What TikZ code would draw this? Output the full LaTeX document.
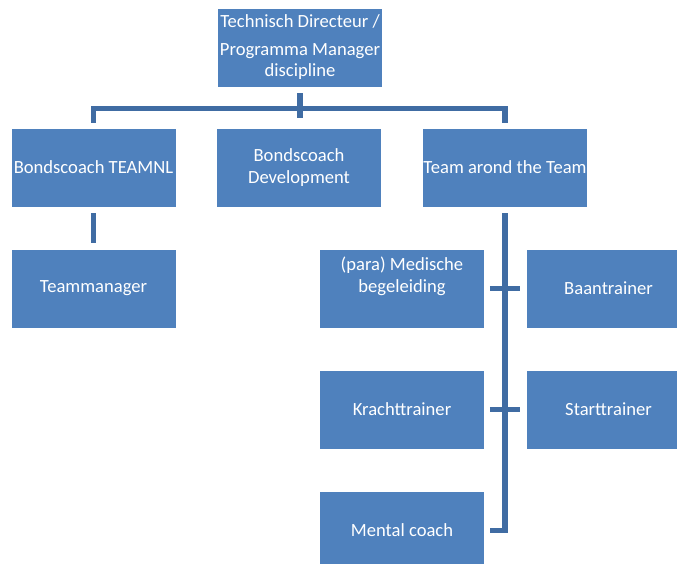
\documentclass[tikz,border=0pt]{standalone}
\usepackage{fontspec}
\setmainfont{Carlito}
\definecolor{boxblue}{HTML}{4F81BD}
\definecolor{linkblue}{RGB}{64,108,163}
\tikzstyle{unit}=[rectangle,fill=boxblue,draw=white,line width=0.8pt,minimum width=165pt,minimum height=79pt,inner sep=0pt,align=center,text=white,font=\fontsize{18.6}{21.5}\selectfont]
\tikzstyle{link}=[draw=linkblue,line width=5.5pt,line cap=butt,line join=miter]

\begin{document}
\begin{tikzpicture}[x=1pt,y=-1pt]
\useasboundingbox (0,0) rectangle (677,564);
\clip (0,0) rectangle (677,564);
\node[unit] (top) at (300, 47.5) {Technisch Directeur /\\[6pt]Programma Manager\\discipline};
\node[unit] (bc) at (93.5, 167.5) {Bondscoach TEAMNL};
\node[unit] (dev) at (299, 167.5) {Bondscoach\\Development};
\node[unit] (team) at (505, 167.5) {Team arond the Team};
\node[unit] (tm) at (93.5, 288.5) {Teammanager};
\node[unit] (med) at (402, 288.5) {(para) Medische\\begeleiding\\\strut};
\node[unit] (baan) at (608.5, 288.5) {Baantrainer};
\node[unit] (kracht) at (402, 409.5) {Krachttrainer};
\node[unit] (start) at (608.5, 409.5) {Starttrainer};
\node[unit] (mental) at (402, 530.5) {Mental coach};
\coordinate (hub) at (300, 108.5);
\draw[link] ([yshift=-6pt]top.south) -- ([yshift=-31pt]top.south);
\draw[link] ([yshift=5pt]bc.north) |- (hub) -| ([yshift=5pt]team.north);
\draw[link] ([yshift=-6pt]bc.south) -- ([yshift=6pt]tm.north);
\draw[link] ([yshift=-6pt]team.south) |- ([xshift=5pt]mental.east);
\draw[link] ([xshift=5pt]med.east) -- ([xshift=-6pt]baan.west);
\draw[link] ([xshift=5pt]kracht.east) -- ([xshift=-6pt]start.west);
\end{tikzpicture}
\end{document}
